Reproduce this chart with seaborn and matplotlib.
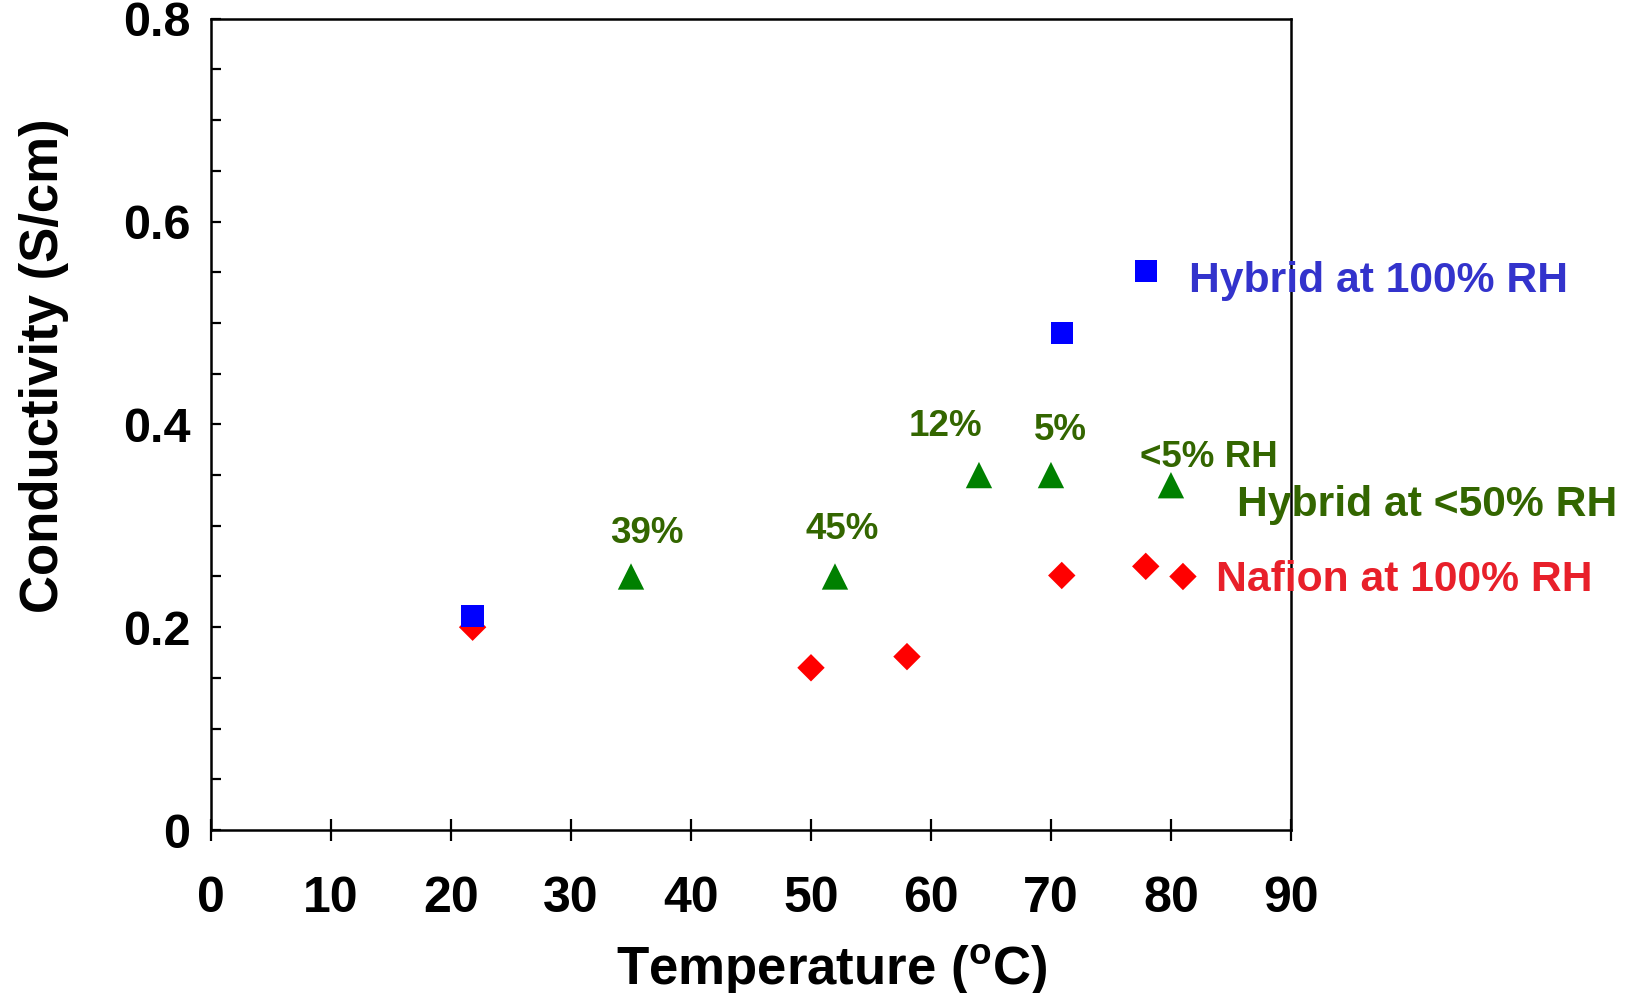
import numpy as np
import pandas as pd
import matplotlib
matplotlib.use("Agg")
import matplotlib.pyplot as plt
import seaborn as sns
from matplotlib.ticker import MultipleLocator, FixedLocator, FuncFormatter

# data
hybrid100_t = [21.8, 70.9, 77.9]
hybrid100_s = [0.211, 0.49, 0.551]
hybrid_low_t = [35, 52, 64, 70, 80]
hybrid_low_s = [0.25, 0.25, 0.35, 0.35, 0.34]
nafion_t = [21.8, 50, 58, 70.9, 77.9, 81]
nafion_s = [0.2, 0.16, 0.171, 0.251, 0.26, 0.25]

series_names = ["Hybrid at 100% RH", "Hybrid at <50% RH", "Nafion at 100% RH"]
rh_labels = ["39%", "45%", "12%", "5%", "<5% RH"]

df = pd.concat([
    pd.DataFrame({"T": nafion_t, "S": nafion_s, "grp": series_names[2]}),
    pd.DataFrame({"T": hybrid_low_t, "S": hybrid_low_s, "grp": series_names[1]}),
    pd.DataFrame({"T": hybrid100_t, "S": hybrid100_s, "grp": series_names[0]}),
])

sns.set_theme(style="white")
plt.rcParams['font.family'] = ['Liberation Sans', 'DejaVu Sans']
plt.rcParams['font.weight'] = 'bold'
plt.rcParams['text.color'] = 'black'
plt.rcParams['axes.labelcolor'] = 'black'
plt.rcParams['xtick.color'] = 'black'
plt.rcParams['ytick.color'] = 'black'
plt.rcParams['mathtext.fontset'] = 'custom'
plt.rcParams['mathtext.rm'] = 'Liberation Sans:bold'
plt.rcParams['mathtext.bf'] = 'Liberation Sans:bold'

fig = plt.figure(figsize=(16.31, 9.93), dpi=100)
ax = fig.add_axes([0.1294, 0.1641, 0.6621, 0.8171])

marker_col = {series_names[0]: "#0000FF", series_names[1]: "#008000", series_names[2]: "#FF0000"}
marker_shape = {series_names[0]: "s", series_names[1]: "^", series_names[2]: "D"}
marker_size = {series_names[0]: 260, series_names[1]: 360, series_names[2]: 195}
sns.scatterplot(data=df, x="T", y="S", hue="grp", style="grp", size="grp",
                palette=marker_col, markers=marker_shape, sizes=marker_size,
                edgecolor="none", legend=False, ax=ax)

ax.set_xlim(0, 90)
ax.set_ylim(0, 0.8)

for sp in ax.spines.values():
    sp.set_color("black")
    sp.set_linewidth(1.8)

ax.xaxis.set_major_locator(MultipleLocator(10))
ax.tick_params(axis="x", which="major", direction="inout", length=16, width=1.6,
               colors="black", labelsize=36, pad=25, bottom=True, top=False)
ax.yaxis.set_major_locator(FixedLocator([0, 0.2, 0.4, 0.6, 0.8]))
ax.yaxis.set_minor_locator(MultipleLocator(0.05))
ax.yaxis.set_major_formatter(FuncFormatter(lambda v, p: "0" if v == 0 else f"{v:.1f}"))
ax.tick_params(axis="y", which="both", direction="in", length=7, width=1.6,
               colors="black", labelsize=35, pad=15, left=True, right=False)
for lbl in ax.get_xticklabels() + ax.get_yticklabels():
    lbl.set_fontweight("bold")

ax.set_xlabel(r"Temperature ($^{\mathrm{o}}$C)", fontsize=38, fontweight="bold", color="black")
ax.xaxis.set_label_coords(0.575, -0.139)
ax.set_ylabel("Conductivity (S/cm)", fontsize=38, fontweight="bold", color="black")
ax.yaxis.set_label_coords(-0.132, 0.572)

# RH annotations above the green triangles
lbl_pos = [(36.3, 0.292), (52.6, 0.296), (61.2, 0.398), (70.8, 0.394), (83.2, 0.367)]
for txt, (xx, yy) in zip(rh_labels, lbl_pos):
    ax.text(xx, yy, txt, color="#336600", fontsize=26.5, fontweight="bold",
            ha="center", va="center", clip_on=False)

ax.text(81.5, 0.541, series_names[0], color="#3333CC", fontsize=30.7,
        fontweight="bold", ha="left", va="center", clip_on=False)
ax.text(85.5, 0.320, series_names[1], color="#336600", fontsize=30.7,
        fontweight="bold", ha="left", va="center", clip_on=False)
ax.text(83.75, 0.247, series_names[2], color="#E8202A", fontsize=30.7,
        fontweight="bold", ha="left", va="center", clip_on=False)

fig.savefig("out.png", dpi=100)
